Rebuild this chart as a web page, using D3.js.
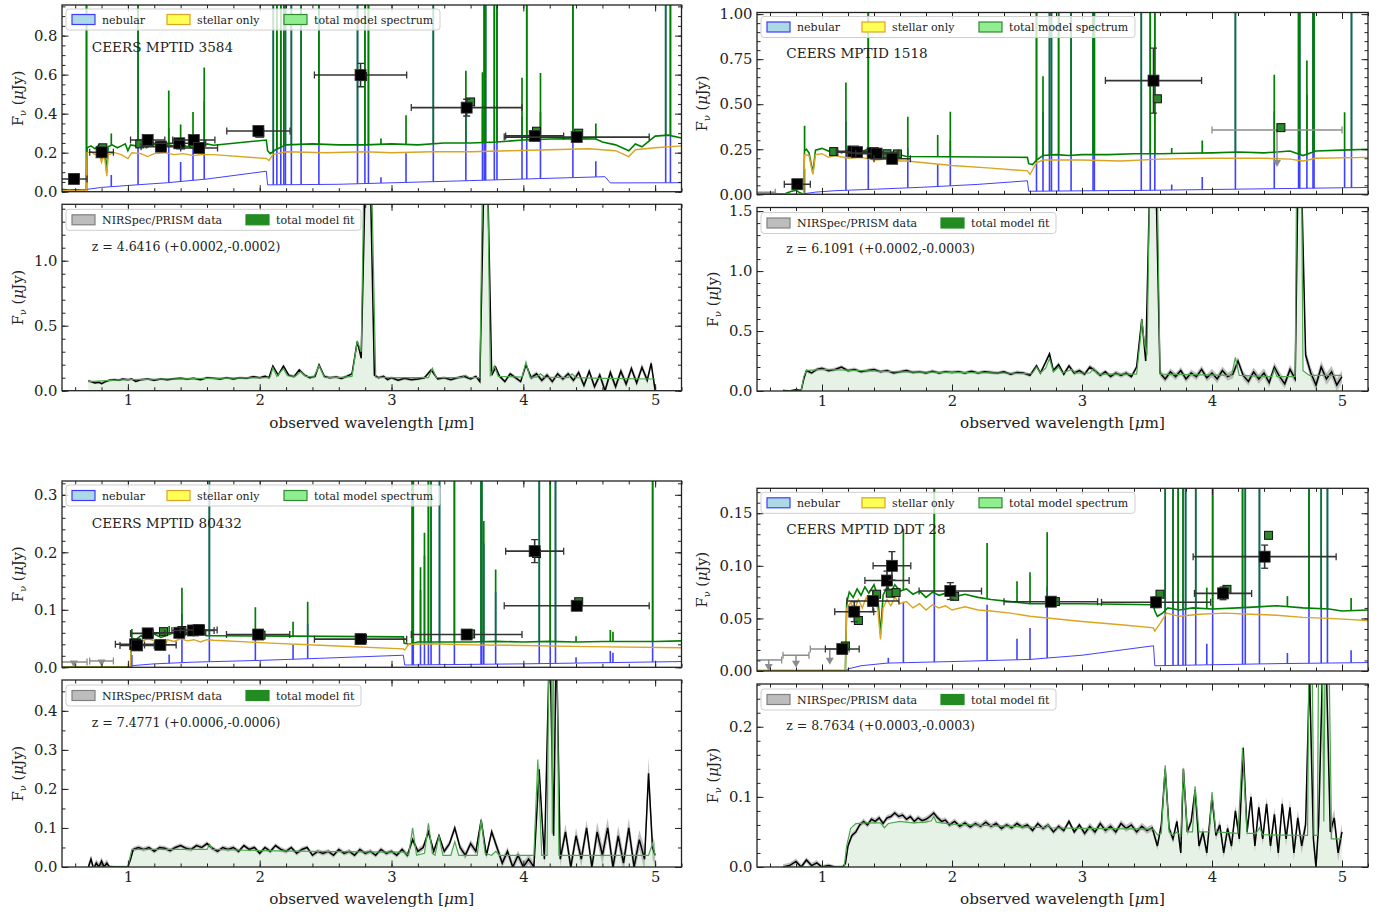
<!DOCTYPE html>
<html>
<head>
<meta charset="utf-8">
<script src="https://cdn.jsdelivr.net/npm/d3@7"></script>
<style>
  body { margin: 0; background: #fff; }
  svg text { font-family: "DejaVu Serif", serif; fill: #222; }
</style>
</head>
<body>
<svg id="chart" width="1395" height="916"></svg>
<script>
// ---------- labels ----------
const xTicks = [1, 2, 3, 4, 5];
const topLegend = ["nebular", "stellar only", "total model spectrum"];
const botLegend = ["NIRSpec/PRISM data", "total model fit"];
const names = ["CEERS MPTID 3584", "CEERS MPTID 1518", "CEERS MPTID 80432", "CEERS MPTID DDT 28"];
const redshifts = ["z = 4.6416 (+0.0002,-0.0002)", "z = 6.1091 (+0.0002,-0.0003)",
                   "z = 7.4771 (+0.0006,-0.0006)", "z = 8.7634 (+0.0003,-0.0003)"];

// ---------- panel 1 : 3584 ----------
const p1Total = [[0.50,.012],[0.55,.008],[0.60,.01],[0.65,.008],[0.685,.01],[0.69,.225],[0.72,.235],[0.75,.22],[0.78,.24],[0.80,.17],[0.82,.235],[0.84,.10],[0.85,.23],[0.88,.24],[0.92,.225],[0.95,.235],[0.98,.245],[1.00,.21],[1.02,.24],[1.06,.235],[1.10,.245],[1.14,.225],[1.18,.24],[1.22,.245],[1.26,.23],[1.30,.24],[1.35,.235],[1.40,.245],[1.45,.23],[1.50,.24],[1.55,.225],[1.60,.245],[1.65,.238],[2.05,.265],[2.06,.21],[2.08,.195],[2.12,.215],[2.20,.24],[2.4,.245],[2.6,.24],[2.8,.24],[3.0,.245],[3.2,.24],[3.4,.25],[3.6,.25],[3.8,.255],[4.0,.265],[4.2,.27],[4.4,.272],[4.55,.27],[4.6,.255],[4.7,.24],[4.8,.21],[4.85,.245],[4.9,.23],[5.0,.285],[5.1,.29],[5.2,.275]];
const p1Stellar = [[0.50,.005],[0.685,.005],[0.69,.2],[0.72,.205],[0.75,.19],[0.78,.2],[0.80,.15],[0.82,.195],[0.84,.08],[0.85,.19],[0.90,.2],[0.95,.19],[1.00,.17],[1.03,.2],[1.10,.195],[1.15,.18],[1.20,.195],[1.28,.2],[1.35,.19],[1.42,.195],[1.50,.185],[1.55,.19],[1.65,.19],[2.05,.17],[2.07,.16],[2.10,.19],[2.20,.205],[2.5,.2],[2.8,.205],[3.0,.2],[3.3,.205],[3.6,.205],[3.9,.21],[4.2,.215],[4.5,.22],[4.7,.21],[4.8,.18],[4.85,.215],[5.0,.225],[5.2,.235]];
const p1Nebular = [[0.50,0],[0.685,0],[0.69,.012],[0.8,.022],[1.0,.032],[1.3,.046],[1.6,.065],[2.05,.105],[2.06,.035],[2.6,.038],[3.5,.055],[4.62,.077],[4.66,.045],[5.2,.046]];
const p1Lines = [[0.686,5],[0.874,.06],[1.077,5],[1.31,.28],[1.40,.1],[1.494,.17],[1.579,.4],[2.103,5],[2.13,5],[2.16,5],[2.183,5],[2.195,5],[2.24,5],[2.314,5],[2.449,5],[2.742,5],[2.798,5],[2.825,5],[2.92,.03],[3.11,.15],[3.317,5],[3.564,.37],[3.69,.36],[3.703,5],[3.714,5],[3.78,5],[3.80,5],[3.99,.32],[4.026,5],[4.13,.34],[4.376,5],[4.55,.08],[5.08,5],[5.116,5]];
const p1Phot = [[0.59,.065,.10,.008],[0.80,.202,.09,.01],[1.15,.265,.13,.012],[1.25,.231,.15,.01],[1.39,.248,.2,.01],[1.50,.265,.16,.012],[1.54,.224,.14,.01],[1.99,.311,.24,.015],[2.765,.598,.35,.06],[3.57,.431,.42,.043],[4.086,.286,.22,.015],[4.405,.28,.55,.012]];
const p1PhotModel = [[0.60,.07],[0.81,.225],[1.09,.245],[1.26,.235],[1.40,.24],[1.50,.245],[1.55,.23],[2.0,.30],[2.78,.59],[3.60,.46],[4.10,.31],[4.42,.30]];
const p1Limits = [];
const p1Spec = [[0.70,.075,.012],[0.72,.07,.01],[0.75,.06,.01],[0.78,.065,.01],[0.80,.055,.01],[0.83,.07,.01],[0.86,.08,.01],[0.90,.085,.01],[0.93,.08,.01],[0.96,.09,.01],[1.00,.085,.01],[1.03,.09,.01],[1.06,.072,.01],[1.10,.085,.01],[1.15,.09,.01],[1.20,.08,.01],[1.25,.09,.01],[1.30,.085,.01],[1.35,.092,.01],[1.40,.095,.01],[1.45,.09,.01],[1.50,.095,.01],[1.55,.085,.01],[1.60,.1,.01],[1.65,.095,.01],[1.70,.09,.01],[1.75,.1,.01],[1.80,.09,.01],[1.85,.1,.01],[1.90,.095,.01],[1.95,.108,.01],[2.00,.1,.01],[2.04,.11,.012],[2.07,.1,.012],[2.10,.19,.012],[2.14,.12,.012],[2.18,.19,.012],[2.22,.12,.012],[2.26,.108,.012],[2.30,.16,.012],[2.34,.12,.012],[2.38,.1,.012],[2.42,.11,.012],[2.45,.2,.012],[2.49,.11,.012],[2.53,.1,.012],[2.58,.105,.012],[2.62,.095,.012],[2.66,.11,.012],[2.70,.13,.012],[2.74,.38,.015],[2.77,.25,.015],[2.80,1.6,.02],[2.84,1.6,.02],[2.87,.12,.012],[2.90,.1,.012],[2.94,.11,.012],[2.97,.085,.012],[3.00,.1,.012],[3.05,.08,.012],[3.10,.095,.012],[3.15,.085,.012],[3.20,.09,.012],[3.25,.1,.012],[3.30,.16,.012],[3.35,.09,.012],[3.40,.1,.012],[3.45,.085,.012],[3.50,.1,.012],[3.55,.11,.012],[3.60,.09,.012],[3.64,.11,.012],[3.67,.07,.012],[3.70,1.6,.02],[3.73,1.6,.02],[3.76,.12,.015],[3.79,.18,.015],[3.82,.11,.015],[3.86,.07,.015],[3.90,.13,.015],[3.94,.1,.015],[3.98,.07,.015],[4.02,.2,.015],[4.06,.1,.02],[4.10,.13,.02],[4.14,.08,.02],[4.18,.12,.02],[4.22,.07,.02],[4.26,.13,.02],[4.30,.09,.02],[4.34,.13,.02],[4.38,.08,.02],[4.42,.14,.025],[4.46,.04,.025],[4.50,.15,.025],[4.54,.03,.025],[4.58,.12,.025],[4.62,.0,.03],[4.66,.14,.03],[4.70,.03,.03],[4.74,.15,.03],[4.78,.05,.03],[4.82,.17,.03],[4.86,.06,.03],[4.90,.18,.03],[4.94,.08,.03],[4.97,.21,.03],[5.00,.0,.03]];
const p1Model = [[0.70,.07],[0.80,.075],[1.0,.085],[1.3,.09],[1.6,.095],[1.9,.098],[2.04,.1],[2.08,.105],[2.10,.177],[2.13,.11],[2.18,.17],[2.21,.115],[2.27,.11],[2.31,.146],[2.35,.11],[2.41,.105],[2.45,.192],[2.49,.105],[2.6,.1],[2.70,.11],[2.74,.382],[2.77,.3],[2.79,1.6],[2.85,1.6],[2.88,.105],[3.0,.1],[3.28,.1],[3.31,.172],[3.34,.1],[3.53,.1],[3.56,.12],[3.59,.1],[3.67,.1],[3.69,1.6],[3.73,1.6],[3.75,.11],[3.78,.19],[3.81,.11],[3.99,.105],[4.02,.22],[4.05,.105],[4.10,.105],[4.13,.13],[4.16,.105],[4.34,.1],[4.37,.13],[4.40,.1],[4.6,.095],[5.0,.09]];

// ---------- panel 2 : 1518 ----------
const p2Total = [[0.50,.006],[0.62,.006],[0.66,.003],[0.72,.004],[0.76,.016],[0.80,.022],[0.83,.008],[0.86,.0],[0.865,.24],[0.88,.25],[0.90,.23],[0.93,.12],[0.95,.245],[1.0,.255],[1.05,.24],[1.10,.25],[1.15,.23],[1.20,.245],[1.25,.252],[1.30,.235],[1.35,.25],[1.40,.225],[1.45,.24],[1.50,.225],[1.55,.235],[1.60,.22],[1.65,.21],[2.58,.205],[2.59,.17],[2.62,.165],[2.65,.19],[2.70,.215],[2.8,.22],[2.9,.215],[3.0,.22],[3.2,.22],[3.4,.225],[3.6,.225],[3.8,.228],[4.0,.23],[4.2,.235],[4.4,.23],[4.6,.24],[4.7,.215],[4.8,.24],[5.0,.245],[5.2,.25]];
const p2Stellar = [[0.50,.002],[0.86,.0],[0.865,.22],[0.90,.215],[0.93,.11],[0.95,.22],[1.0,.225],[1.05,.205],[1.10,.215],[1.20,.2],[1.30,.205],[1.40,.19],[1.50,.195],[1.60,.185],[1.65,.185],[2.0,.16],[2.3,.145],[2.58,.13],[2.60,.11],[2.65,.175],[2.70,.19],[3.0,.19],[3.3,.185],[3.6,.195],[4.0,.2],[4.4,.2],[4.6,.195],[4.7,.185],[4.8,.2],[5.2,.205]];
const p2Nebular = [[0.50,0],[0.86,0],[0.87,.004],[0.95,.012],[1.1,.02],[1.4,.028],[1.8,.04],[2.2,.055],[2.58,.075],[2.59,.017],[3.5,.022],[5.2,.038]];
const p2Lines = [[0.866,.14],[1.184,.38],[1.356,5],[1.66,.22],[1.89,.12],[1.987,.25],[2.65,5],[2.70,.44],[2.75,5],[2.765,5],[2.82,5],[2.916,5],[3.085,5],[3.095,5],[3.456,5],[3.525,5],[3.56,5],[3.69,.03],[3.925,.07],[4.18,5],[4.479,.43],[4.666,5],[4.675,5],[4.73,.52],[4.777,5],[4.785,5],[5.02,.21],[5.073,5]];
const p2Phot = [[0.81,.056,.10,.008],[1.24,.238,.13,.012],[1.27,.234,.15,.012],[1.39,.229,.2,.015],[1.42,.226,.16,.015],[1.54,.197,.14,.012],[3.55,.631,.37,.18]];
const p2PhotModel = [[1.09,.237],[1.25,.24],[1.40,.235],[1.50,.225],[1.58,.224],[3.58,.53],[4.53,.37]];
const p2Limits = [[0.56,.012,.08,.04],[4.5,.357,.5,.2]];
const p2Spec = [[0.70,.005,.008],[0.75,.0,.008],[0.80,.01,.008],[0.84,.005,.008],[0.86,.10,.015],[0.88,.17,.015],[0.92,.15,.015],[0.96,.18,.015],[1.00,.19,.015],[1.05,.17,.015],[1.10,.18,.015],[1.15,.2,.015],[1.20,.17,.015],[1.25,.18,.015],[1.30,.16,.015],[1.35,.17,.015],[1.40,.18,.015],[1.45,.16,.015],[1.50,.17,.015],[1.55,.15,.015],[1.60,.16,.015],[1.65,.17,.015],[1.70,.155,.015],[1.75,.16,.015],[1.80,.15,.015],[1.85,.165,.015],[1.90,.15,.015],[1.95,.16,.015],[2.00,.155,.015],[2.05,.16,.015],[2.10,.15,.015],[2.15,.165,.015],[2.20,.15,.015],[2.25,.16,.015],[2.30,.155,.015],[2.35,.15,.015],[2.40,.16,.015],[2.45,.14,.015],[2.50,.155,.015],[2.55,.15,.015],[2.60,.13,.015],[2.65,.21,.015],[2.68,.15,.015],[2.72,.24,.02],[2.75,.31,.02],[2.78,.17,.02],[2.82,.22,.02],[2.86,.14,.02],[2.90,.21,.02],[2.94,.15,.02],[2.98,.17,.02],[3.02,.14,.02],[3.06,.2,.02],[3.10,.17,.02],[3.14,.13,.02],[3.18,.16,.02],[3.22,.12,.02],[3.26,.15,.02],[3.30,.13,.02],[3.34,.15,.02],[3.38,.12,.02],[3.42,.2,.02],[3.46,.6,.03],[3.49,.25,.03],[3.52,1.7,.03],[3.57,1.7,.03],[3.60,.15,.03],[3.64,.1,.03],[3.68,.16,.03],[3.72,.12,.03],[3.76,.17,.03],[3.80,.1,.03],[3.84,.15,.03],[3.88,.12,.03],[3.92,.18,.03],[3.96,.11,.03],[4.00,.15,.035],[4.04,.1,.035],[4.08,.17,.035],[4.12,.12,.035],[4.16,.14,.035],[4.20,.25,.035],[4.24,.13,.035],[4.28,.08,.035],[4.32,.16,.035],[4.36,.1,.04],[4.40,.15,.04],[4.44,.07,.04],[4.48,.2,.04],[4.52,.12,.04],[4.56,.06,.04],[4.60,.18,.04],[4.64,.1,.04],[4.66,1.7,.04],[4.69,1.7,.04],[4.72,.3,.05],[4.76,.15,.05],[4.80,.05,.05],[4.84,.2,.05],[4.88,.1,.05],[4.92,.16,.05],[4.96,.05,.05],[5.00,.12,.05]];
const p2Model = [[0.70,.0],[0.84,.0],[0.86,.12],[0.88,.17],[1.0,.18],[1.3,.17],[1.6,.16],[2.0,.155],[2.4,.15],[2.6,.145],[2.62,.15],[2.65,.2],[2.68,.15],[2.72,.19],[2.75,.27],[2.78,.16],[2.82,.2],[2.85,.15],[2.92,.18],[2.95,.15],[3.06,.15],[3.09,.19],[3.12,.14],[3.42,.14],[3.45,.45],[3.46,.6],[3.48,.4],[3.50,.3],[3.52,1.7],[3.58,1.7],[3.60,.14],[4.15,.13],[4.18,.28],[4.21,.13],[4.46,.12],[4.48,.18],[4.50,.12],[4.64,.12],[4.65,1.7],[4.69,1.7],[4.70,.17],[4.75,.13],[5.0,.13]];

// ---------- panel 3 : 80432 ----------
const p3Total = [[0.50,.0005],[1.02,.0005],[1.025,.045],[1.04,.05],[1.06,.048],[1.10,.055],[1.15,.05],[1.20,.058],[1.25,.052],[1.30,.056],[1.35,.06],[1.40,.052],[1.45,.058],[1.50,.055],[1.55,.06],[1.60,.055],[1.65,.055],[3.09,.053],[3.095,.042],[3.13,.04],[3.2,.044],[3.4,.044],[3.6,.044],[3.8,.045],[4.0,.044],[4.2,.045],[4.4,.044],[4.6,.045],[4.8,.045],[5.0,.045],[5.2,.046]];
const p3Stellar = [[0.50,0],[1.02,0],[1.025,.045],[1.05,.048],[1.10,.044],[1.15,.05],[1.20,.046],[1.27,.03],[1.30,.048],[1.35,.045],[1.40,.05],[1.45,.046],[1.50,.048],[1.55,.044],[1.60,.048],[1.65,.047],[2.0,.043],[2.5,.038],[3.09,.032],[3.10,.03],[3.13,.04],[3.3,.041],[3.6,.039],[4.0,.038],[4.5,.036],[5.2,.034]];
const p3Nebular = [[0.50,0],[1.02,0],[1.04,.003],[1.2,.006],[1.5,.009],[2.0,.012],[2.5,.016],[3.09,.021],[3.10,.004],[4.0,.006],[5.2,.01]];
const p3Lines = [[1.03,.02],[1.313,.015],[1.41,.085],[1.618,5],[1.967,.05],[2.253,.025],[2.364,.06],[3.157,5],[3.165,5],[3.22,.13],[3.25,.19],[3.28,5],[3.30,5],[3.364,5],[3.477,5],[3.679,5],[3.685,5],[3.70,.21],[3.79,.125],[4.121,5],[4.204,5],[4.244,5],[4.40,.01],[4.66,.02],[4.68,.017],[4.981,5]];
const p3Phot = [[1.055,.040,.15,.005],[1.07,.038,.13,.005],[1.15,.059,.13,.005],[1.246,.039,.12,.005],[1.39,.06,.2,.004],[1.494,.064,.16,.004],[1.537,.065,.14,.004],[1.988,.057,.24,.004],[2.765,.049,.35,.004],[3.57,.057,.42,.004],[4.086,.202,.22,.02],[4.405,.107,.55,.005]];
const p3PhotModel = [[1.07,.038],[1.16,.058],[1.27,.062],[1.41,.064],[1.51,.066],[1.55,.066],[2.01,.056],[2.78,.05],[3.60,.058],[4.10,.198],[4.42,.114]];
const p3Limits = [[0.59,.0092,.10,.008],[0.80,.011,.09,.008]];
const p3Spec = [[0.70,.0,.01],[0.72,.02,.01],[0.74,-.005,.01],[0.76,.01,.01],[0.78,.0,.01],[0.80,.015,.01],[0.82,.0,.01],[0.84,.01,.01],[0.86,.0,.005],[0.90,.0,.003],[0.95,.0,.003],[1.00,.0,.003],[1.02,.02,.006],[1.04,.045,.006],[1.08,.05,.006],[1.12,.045,.006],[1.16,.05,.006],[1.20,.04,.006],[1.24,.05,.006],[1.28,.048,.006],[1.32,.042,.006],[1.36,.05,.006],[1.40,.055,.006],[1.44,.048,.006],[1.48,.045,.006],[1.52,.055,.006],[1.56,.05,.006],[1.60,.06,.006],[1.64,.048,.006],[1.68,.04,.006],[1.72,.05,.006],[1.76,.045,.006],[1.80,.05,.006],[1.84,.04,.006],[1.88,.055,.006],[1.92,.045,.006],[1.96,.05,.006],[2.00,.035,.006],[2.04,.05,.006],[2.08,.04,.006],[2.12,.055,.006],[2.16,.045,.006],[2.20,.04,.006],[2.24,.05,.006],[2.28,.035,.006],[2.32,.045,.006],[2.36,.05,.006],[2.40,.03,.006],[2.44,.04,.006],[2.48,.035,.006],[2.52,.04,.006],[2.56,.03,.006],[2.60,.045,.006],[2.64,.035,.006],[2.68,.04,.006],[2.72,.03,.006],[2.76,.045,.006],[2.80,.035,.006],[2.84,.04,.006],[2.88,.03,.006],[2.92,.045,.006],[2.96,.035,.006],[3.00,.04,.006],[3.04,.03,.006],[3.08,.045,.006],[3.12,.03,.008],[3.16,.07,.008],[3.20,.04,.008],[3.24,.05,.008],[3.28,.09,.008],[3.32,.04,.008],[3.36,.08,.008],[3.40,.04,.008],[3.44,.06,.008],[3.48,.1,.01],[3.52,.05,.01],[3.56,.03,.01],[3.60,.06,.01],[3.64,.04,.01],[3.68,.12,.01],[3.72,.03,.01],[3.76,.09,.01],[3.80,.05,.012],[3.84,.01,.012],[3.88,.04,.012],[3.92,.0,.012],[3.96,.03,.012],[4.00,.0,.012],[4.04,.02,.012],[4.08,.0,.012],[4.12,.25,.015],[4.16,.02,.015],[4.20,.6,.02],[4.23,.08,.02],[4.25,.6,.02],[4.28,.02,.02],[4.32,.09,.02],[4.36,.0,.02],[4.40,.08,.02],[4.44,.02,.02],[4.48,.1,.02],[4.52,.0,.02],[4.56,.09,.025],[4.60,.03,.025],[4.64,.1,.025],[4.68,.0,.025],[4.72,.08,.025],[4.76,.01,.025],[4.80,.1,.025],[4.84,.0,.025],[4.88,.07,.025],[4.92,.02,.03],[4.95,.24,.04],[4.98,.05,.03],[5.00,.03,.03]];
const p3Model = [[0.70,.0],[1.00,.0],[1.03,.045],[1.1,.045],[1.6,.045],[1.62,.058],[1.64,.045],[2.0,.042],[2.4,.04],[3.0,.038],[3.10,.038],[3.13,.03],[3.16,.1],[3.19,.03],[3.25,.035],[3.28,.112],[3.31,.035],[3.33,.03],[3.36,.08],[3.39,.03],[3.45,.03],[3.48,.065],[3.51,.03],[3.65,.03],[3.68,.122],[3.71,.035],[3.76,.03],[3.79,.04],[3.82,.03],[4.08,.03],[4.11,.275],[4.14,.03],[4.18,.03],[4.195,.6],[4.215,.6],[4.22,.085],[4.23,.6],[4.255,.6],[4.27,.03],[4.95,.03],[4.98,.06],[5.0,.03]];

// ---------- panel 4 : DDT 28 ----------
const p4Total = [[0.50,.0005],[1.18,.0005],[1.19,.065],[1.21,.075],[1.24,.07],[1.27,.078],[1.30,.072],[1.33,.08],[1.36,.074],[1.40,.082],[1.43,.07],[1.45,.035],[1.47,.072],[1.50,.08],[1.53,.074],[1.56,.082],[1.60,.076],[1.65,.078],[1.70,.073],[1.75,.076],[1.80,.07],[1.85,.075],[1.90,.072],[1.95,.074],[2.0,.07],[2.1,.073],[2.2,.07],[2.3,.068],[2.45,.066],[2.6,.064],[3.0,.064],[3.55,.063],[3.56,.057],[3.58,.052],[3.62,.055],[3.66,.06],[3.75,.058],[3.85,.06],[4.0,.059],[4.2,.06],[4.35,.061],[4.5,.062],[4.7,.06],[4.9,.059],[5.0,.057],[5.2,.058]];
const p4Stellar = [[0.50,0],[1.18,0],[1.19,.06],[1.22,.065],[1.25,.058],[1.28,.068],[1.31,.06],[1.34,.07],[1.37,.062],[1.40,.072],[1.43,.058],[1.45,.03],[1.47,.06],[1.50,.068],[1.53,.062],[1.56,.07],[1.60,.064],[1.65,.066],[1.70,.06],[1.75,.064],[1.80,.058],[1.85,.063],[1.90,.06],[1.95,.062],[2.0,.058],[2.1,.061],[2.2,.058],[2.3,.057],[2.45,.055],[2.6,.052],[3.0,.047],[3.3,.044],[3.55,.041],[3.56,.038],[3.6,.045],[3.65,.055],[3.75,.052],[3.9,.054],[4.1,.055],[4.3,.054],[4.5,.053],[4.7,.051],[4.9,.05],[5.2,.048]];
const p4Nebular = [[0.50,0],[1.18,0],[1.2,.002],[1.3,.005],[1.5,.0075],[2.0,.009],[2.6,.011],[3.0,.015],[3.55,.024],[3.56,.005],[4.5,.007],[5.2,.008]];
const p4Lines = [[1.51,.005],[1.626,.058],[1.864,5],[2.27,.053],[2.5,.02],[2.60,.03],[2.732,.068],[3.64,5],[3.70,5],[3.74,5],[3.777,5],[3.797,5],[3.875,5],[3.96,.02],[4.005,5],[4.235,5],[4.256,5],[4.365,5],[4.58,.01],[4.746,5],[4.84,5],[4.888,5],[5.07,.012]];
const p4Phot = [[1.156,.0209,.13,.003],[1.248,.0564,.15,.0095],[1.392,.0665,.2,.01],[1.50,.086,.17,.009],[1.538,.100,.145,.0135],[1.987,.076,.24,.008],[2.76,.0659,.36,.004],[3.57,.0653,.42,.005],[4.085,.0738,.22,.006],[4.405,.1087,.55,.011]];
const p4PhotModel = [[1.18,.0238],[1.28,.048],[1.42,.073],[1.525,.074],[1.57,.0745],[2.02,.071],[2.795,.066],[3.60,.073],[4.115,.0776],[4.435,.129]];
const p4Limits = [[0.59,.0105,.1,.0095],[0.80,.015,.1,.011],[1.06,.021,.15,.014]];
const p4Spec = [[0.70,.0,.004],[0.75,.002,.004],[0.80,.008,.004],[0.84,.0,.004],[0.88,.01,.004],[0.92,.002,.004],[0.96,.006,.004],[1.00,.0,.003],[1.05,.002,.003],[1.10,.0,.002],[1.16,.0,.002],[1.18,.005,.003],[1.20,.03,.004],[1.23,.045,.004],[1.26,.05,.004],[1.29,.06,.004],[1.32,.065,.004],[1.35,.06,.004],[1.38,.068,.004],[1.41,.065,.004],[1.44,.07,.004],[1.47,.062,.004],[1.50,.07,.004],[1.53,.072,.004],[1.56,.077,.004],[1.59,.072,.004],[1.62,.074,.004],[1.65,.068,.004],[1.68,.072,.004],[1.71,.065,.004],[1.74,.07,.004],[1.77,.066,.004],[1.80,.068,.004],[1.83,.072,.004],[1.86,.077,.004],[1.89,.07,.004],[1.92,.065,.004],[1.95,.067,.004],[1.98,.06,.004],[2.02,.065,.004],[2.06,.058,.004],[2.10,.063,.004],[2.14,.057,.004],[2.18,.062,.004],[2.22,.058,.004],[2.26,.064,.004],[2.30,.058,.004],[2.34,.062,.004],[2.38,.055,.004],[2.42,.06,.004],[2.46,.056,.004],[2.50,.062,.004],[2.54,.057,.004],[2.58,.06,.004],[2.62,.052,.004],[2.66,.062,.004],[2.70,.055,.004],[2.74,.06,.004],[2.78,.05,.004],[2.82,.058,.004],[2.86,.052,.004],[2.90,.065,.004],[2.94,.05,.004],[2.98,.06,.004],[3.02,.048,.005],[3.06,.058,.005],[3.10,.05,.005],[3.14,.062,.005],[3.18,.052,.005],[3.22,.058,.005],[3.26,.05,.005],[3.30,.062,.005],[3.34,.055,.005],[3.38,.06,.005],[3.42,.05,.005],[3.46,.058,.005],[3.50,.052,.005],[3.54,.056,.005],[3.58,.03,.006],[3.61,.06,.006],[3.64,.14,.006],[3.67,.055,.006],[3.70,.04,.006],[3.73,.065,.006],[3.76,.02,.006],[3.78,.14,.006],[3.81,.05,.006],[3.84,.065,.006],[3.87,.11,.006],[3.90,.03,.007],[3.93,.05,.007],[3.96,.02,.007],[4.00,.1,.007],[4.03,.045,.007],[4.06,.06,.007],[4.09,.02,.007],[4.12,.055,.007],[4.15,.03,.008],[4.18,.08,.008],[4.21,.04,.008],[4.24,.17,.008],[4.27,.05,.008],[4.30,.1,.008],[4.33,.03,.009],[4.36,.085,.009],[4.39,.04,.009],[4.42,.09,.009],[4.45,.03,.01],[4.48,.075,.01],[4.51,.02,.01],[4.54,.09,.01],[4.57,.04,.01],[4.60,.085,.01],[4.63,.02,.01],[4.66,.07,.011],[4.69,.03,.011],[4.72,.06,.011],[4.75,.28,.012],[4.78,.04,.012],[4.80,.0,.012],[4.82,.06,.012],[4.85,.28,.012],[4.88,.28,.012],[4.91,.05,.012],[4.94,.07,.012],[4.97,.02,.012],[5.00,.05,.012]];
const p4Model = [[0.70,.0],[1.17,.0],[1.19,.03],[1.22,.055],[1.26,.062],[1.35,.063],[1.45,.063],[1.48,.056],[1.51,.062],[1.60,.065],[1.70,.063],[1.80,.064],[1.84,.066],[1.86,.072],[1.88,.064],[2.0,.061],[2.3,.059],[2.6,.057],[2.72,.056],[2.74,.06],[2.76,.056],[3.0,.055],[3.55,.054],[3.58,.046],[3.61,.048],[3.64,.145],[3.67,.05],[3.70,.045],[3.73,.05],[3.76,.045],[3.78,.14],[3.81,.05],[3.85,.05],[3.87,.115],[3.90,.05],[3.98,.05],[4.00,.107],[4.03,.05],[4.20,.048],[4.235,.17],[4.27,.048],[4.34,.048],[4.365,.056],[4.39,.046],[4.70,.045],[4.735,.045],[4.745,.3],[4.77,.3],[4.785,.045],[4.81,.045],[4.82,.3],[4.85,.3],[4.86,.065],[4.87,.3],[4.90,.3],[4.92,.04],[5.0,.04]];

// ---------- layout ----------
const xDomain = [0.5, 5.2];
const panels = [
  { left: 62, right: 681.5, top: [5, 191.7], bot: [204.3, 390.7], topMax: 0.957, botMax: 1.434,
    tMaj: [0, .2, .4, .6, .8], tMin: .05, tFmt: ".1f", bMaj: [0, .5, 1.0], bMin: .1, bFmt: ".1f", tLab: 39.5, bLab: 39.5,
    total: p1Total, stellar: p1Stellar, nebular: p1Nebular, lines: p1Lines, phot: p1Phot, photModel: p1PhotModel, limits: p1Limits, spec: p1Spec, model: p1Model },
  { left: 757, right: 1368, top: [12.5, 194.3], bot: [207.5, 391], topMax: 1.009, botMax: 1.53,
    tMaj: [0, .25, .5, .75, 1.0], tMin: .05, tFmt: ".2f", bMaj: [0, .5, 1.0, 1.5], bMin: .1, bFmt: ".1f", tLab: 50, bLab: 39.5,
    total: p2Total, stellar: p2Stellar, nebular: p2Nebular, lines: p2Lines, phot: p2Phot, photModel: p2PhotModel, limits: p2Limits, spec: p2Spec, model: p2Model },
  { left: 62, right: 681.5, top: [481, 667.3], bot: [680, 867], topMax: 0.324, botMax: 0.479,
    tMaj: [0, .1, .2, .3], tMin: .02, tFmt: ".1f", bMaj: [0, .1, .2, .3, .4], bMin: .05, bFmt: ".1f", tLab: 39.5, bLab: 39.5,
    total: p3Total, stellar: p3Stellar, nebular: p3Nebular, lines: p3Lines, phot: p3Phot, photModel: p3PhotModel, limits: p3Limits, spec: p3Spec, model: p3Model },
  { left: 757, right: 1368, top: [488.3, 671], bot: [684, 867], topMax: 0.1737, botMax: 0.261,
    tMaj: [0, .05, .10, .15], tMin: .01, tFmt: ".2f", bMaj: [0, .1, .2], bMin: .02, bFmt: ".1f", tLab: 50, bLab: 39.5,
    total: p4Total, stellar: p4Stellar, nebular: p4Nebular, lines: p4Lines, phot: p4Phot, photModel: p4PhotModel, limits: p4Limits, spec: p4Spec, model: p4Model }
];

const C = { total: "#008000", stellar: "#daa520", nebular: "#4040ff", model: "#4ca64c", fill: "#e5f2e5", band: "#b4b4b4", ink: "#222" };

const svg = d3.select("#chart");
const defs = svg.append("defs");
let nClip = 0;
function clip(x0, y0, x1, y1) {
  const id = "clip" + (nClip++);
  defs.append("clipPath").attr("id", id).append("rect")
    .attr("x", x0).attr("y", y0).attr("width", x1 - x0).attr("height", y1 - y0);
  return "url(#" + id + ")";
}

function interp(arr, w) {
  const i = d3.bisector(d => d[0]).left(arr, w);
  if (i <= 0) return arr[0][1];
  if (i >= arr.length) return arr[arr.length - 1][1];
  const a = arr[i - 1], b = arr[i];
  return a[1] + (b[1] - a[1]) * (w - a[0]) / (b[0] - a[0]);
}

const xMinor = d3.range(3, 27).map(i => i / 5);
const steps = (max, step) => d3.range(0, Math.floor(max / step + 1e-6) + 1).map(i => i * step);

function styleAxis(a) {
  a.select(".domain").remove();
  a.selectAll(".tick line").attr("stroke", C.ink).attr("stroke-width", 1);
  a.selectAll(".tick text").attr("font-family", "DejaVu Serif").attr("font-size", 14.8).attr("fill", C.ink);
}

function drawAxes(g, x, y, yMaj, yMin, fmt, xLabels) {
  const [x0, x1] = x.range();
  const [yb, yt] = y.range();
  const put = (tr, axis) => g.append("g").attr("transform", tr).call(axis).call(styleAxis);
  put(`translate(0,${yb})`, d3.axisBottom(x).tickValues(xMinor).tickSize(-3.5).tickFormat(""));
  put(`translate(0,${yb})`, d3.axisBottom(x).tickValues(xTicks).tickSize(-6.5).tickPadding(4.2).tickFormat(xLabels ? d3.format("d") : ""));
  put(`translate(0,${yt})`, d3.axisTop(x).tickValues(xMinor).tickSize(-3.5).tickFormat(""));
  put(`translate(0,${yt})`, d3.axisTop(x).tickValues(xTicks).tickSize(-6.5).tickFormat(""));
  put(`translate(${x0},0)`, d3.axisLeft(y).tickValues(yMin).tickSize(-3.5).tickFormat(""));
  put(`translate(${x0},0)`, d3.axisLeft(y).tickValues(yMaj).tickSize(-6.5).tickPadding(4.5).tickFormat(d3.format(fmt)));
  put(`translate(${x1},0)`, d3.axisRight(y).tickValues(yMin).tickSize(-3.5).tickFormat(""));
  put(`translate(${x1},0)`, d3.axisRight(y).tickValues(yMaj).tickSize(-6.5).tickFormat(""));
  g.append("rect").attr("x", x0).attr("y", yt).attr("width", x1 - x0).attr("height", yb - yt)
    .attr("fill", "none").attr("stroke", C.ink).attr("stroke-width", 1.3);
}

function yLabel(g, xPos, yMid) {
  const t = g.append("text").attr("transform", `translate(${xPos},${yMid}) rotate(-90)`)
    .attr("text-anchor", "middle").attr("font-size", 14.5);
  t.append("tspan").text("F");
  t.append("tspan").attr("font-size", 10).attr("dy", 3).text("ν");
  t.append("tspan").attr("dy", -3).text(" (");
  t.append("tspan").attr("font-style", "italic").text("μ");
  t.append("tspan").text("Jy)");
}

function legend(g, x0, y0, w, items) {
  g.append("rect").attr("x", x0).attr("y", y0).attr("width", w).attr("height", 21).attr("rx", 3)
    .attr("fill", "white").attr("fill-opacity", 0.8).attr("stroke", "#cfcfcf");
  items.forEach(it => {
    g.append("rect").attr("x", x0 + it.px).attr("y", y0 + 5.5).attr("width", 23).attr("height", 10)
      .attr("fill", it.fill).attr("stroke", it.stroke).attr("stroke-width", 1.2);
    g.append("text").attr("x", x0 + it.px + 30).attr("y", y0 + 14.5).attr("font-size", 11).text(it.label);
  });
}

function errbar(g, x0, y0, x1, y1, col, w) {
  g.append("line").attr("x1", x0).attr("y1", y0).attr("x2", x1).attr("y2", y1)
    .attr("stroke", col).attr("stroke-width", w);
}

function drawPanel(p, k) {
  const g = svg.append("g");
  const x = d3.scaleLinear().domain(xDomain).range([p.left, p.right]);
  const yT = d3.scaleLinear().domain([0, p.topMax]).range([p.top[1], p.top[0]]);
  const yB = d3.scaleLinear().domain([0, p.botMax]).range([p.bot[1], p.bot[0]]);

  // ---- top: SED model + photometry ----
  const gt = g.append("g").attr("clip-path", clip(p.left, p.top[0], p.right, p.top[1]));
  const lineT = d3.line().x(d => x(d[0])).y(d => yT(d[1]));
  gt.append("path").datum(p.nebular).attr("d", lineT).attr("fill", "none").attr("stroke", C.nebular).attr("stroke-width", 1);
  gt.selectAll(".nl").data(p.lines).enter().append("line")
    .attr("x1", d => x(d[0])).attr("x2", d => x(d[0]))
    .attr("y1", d => yT(interp(p.nebular, d[0]))).attr("y2", d => yT(interp(p.nebular, d[0]) + d[1]))
    .attr("stroke", C.nebular).attr("stroke-width", 1.6);
  gt.append("path").datum(p.total).attr("d", lineT).attr("fill", "none").attr("stroke", C.total).attr("stroke-width", 1.6);
  gt.selectAll(".tl").data(p.lines).enter().append("line")
    .attr("x1", d => x(d[0])).attr("x2", d => x(d[0]))
    .attr("y1", d => yT(interp(p.total, d[0]))).attr("y2", d => yT(interp(p.total, d[0]) + d[1]))
    .attr("stroke", C.total).attr("stroke-width", 1.7);
  gt.append("path").datum(p.stellar).attr("d", lineT).attr("fill", "none").attr("stroke", C.stellar).attr("stroke-width", 1.4);

  // upper limits
  p.limits.forEach(d => {
    const cx = x(d[0]), cy = yT(d[1]), ye = yT(d[1] - d[3]);
    const col = "#8c8c8c";
    errbar(gt, x(d[0] - d[2]), cy, x(d[0] + d[2]), cy, col, 1.5);
    [d[0] - d[2], d[0] + d[2]].forEach(v => errbar(gt, x(v), cy - 3.5, x(v), cy + 3.5, col, 1.3));
    errbar(gt, cx, cy, cx, ye - 5, col, 1.5);
    gt.append("path").attr("d", `M${cx - 4},${ye - 6}L${cx + 4},${ye - 6}L${cx},${ye + 1}Z`).attr("fill", col);
  });
  // model photometry
  gt.selectAll(".pm").data(p.photModel).enter().append("rect")
    .attr("x", d => x(d[0]) - 4).attr("y", d => yT(d[1]) - 4).attr("width", 8).attr("height", 8)
    .attr("fill", "#2a8a2a").attr("stroke", "#111").attr("stroke-width", 1);
  // observed photometry
  p.phot.forEach(d => {
    const cx = x(d[0]), cy = yT(d[1]);
    const xa = x(d[0] - d[2]), xb = x(d[0] + d[2]);
    const ya = yT(d[1] - d[3]), yb = yT(d[1] + d[3]);
    errbar(gt, xa, cy, xb, cy, "#333", 1.6);
    errbar(gt, xa, cy - 3.5, xa, cy + 3.5, "#333", 1.3);
    errbar(gt, xb, cy - 3.5, xb, cy + 3.5, "#333", 1.3);
    errbar(gt, cx, ya, cx, yb, "#333", 1.6);
    errbar(gt, cx - 3.5, ya, cx + 3.5, ya, "#333", 1.3);
    errbar(gt, cx - 3.5, yb, cx + 3.5, yb, "#333", 1.3);
    gt.append("rect").attr("x", cx - 5.5).attr("y", cy - 5.5).attr("width", 11).attr("height", 11)
      .attr("fill", "#000").attr("stroke", "#333").attr("stroke-width", 0.8);
  });
  drawAxes(g, x, yT, p.tMaj, steps(p.topMax, p.tMin), p.tFmt, false);
  yLabel(g, p.left - p.tLab, (p.top[0] + p.top[1]) / 2);
  legend(g, p.left + 4, p.top[0] + 4, 374, [
    { px: 6, fill: "#add8e6", stroke: "#3c3cff", label: topLegend[0] },
    { px: 101, fill: "#ffff55", stroke: "#daa520", label: topLegend[1] },
    { px: 218, fill: "#90ee90", stroke: "#2e8b2e", label: topLegend[2] }
  ]);
  g.append("text").attr("x", p.left + 0.048 * (p.right - p.left)).attr("y", p.top[0] + 0.25 * (p.top[1] - p.top[0]) + 0.5)
    .attr("font-size", 13.6).text(names[k]);

  // ---- bottom: spectrum ----
  const gb = g.append("g").attr("clip-path", clip(p.left, p.bot[0], p.right, p.bot[1]));
  gb.append("path").datum(p.model)
    .attr("d", d3.area().x(d => x(d[0])).y0(yB(0)).y1(d => yB(d[1])))
    .attr("fill", C.fill);
  gb.append("path").datum(p.spec)
    .attr("d", d3.area().x(d => x(d[0])).y0(d => yB(d[1] - d[2])).y1(d => yB(d[1] + d[2])))
    .attr("fill", C.band).attr("fill-opacity", 0.85);
  gb.append("path").datum(p.spec)
    .attr("d", d3.line().x(d => x(d[0])).y(d => yB(d[1])))
    .attr("fill", "none").attr("stroke", "#000").attr("stroke-width", 1.5);
  gb.append("path").datum(p.model)
    .attr("d", d3.line().x(d => x(d[0])).y(d => yB(d[1])))
    .attr("fill", "none").attr("stroke", C.model).attr("stroke-width", 1.2);
  drawAxes(g, x, yB, p.bMaj, steps(p.botMax, p.bMin), p.bFmt, true);
  yLabel(g, p.left - p.bLab, (p.bot[0] + p.bot[1]) / 2);
  legend(g, p.left + 4, p.bot[0] + 5, 295, [
    { px: 6, fill: "#bdbdbd", stroke: "#808080", label: botLegend[0] },
    { px: 180, fill: "#228b22", stroke: "#228b22", label: botLegend[1] }
  ]);
  g.append("text").attr("x", p.left + 0.048 * (p.right - p.left)).attr("y", p.bot[0] + 0.25 * (p.bot[1] - p.bot[0]))
    .attr("font-size", 12.5).text(redshifts[k]);
  const xl = g.append("text").attr("x", (p.left + p.right) / 2).attr("y", p.bot[1] + 37)
    .attr("text-anchor", "middle").attr("font-size", 15.2);
  xl.append("tspan").text("observed wavelength [");
  xl.append("tspan").attr("font-style", "italic").text("μ");
  xl.append("tspan").text("m]");
}

panels.forEach(drawPanel);
</script>
</body>
</html>
